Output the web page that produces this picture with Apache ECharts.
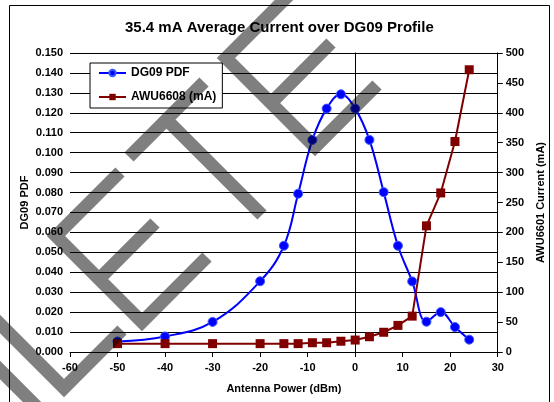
<!DOCTYPE html>
<html><head><meta charset="utf-8">
<script src="https://cdn.jsdelivr.net/npm/echarts@6/dist/echarts.min.js"></script>
<style>html,body{margin:0;padding:0;background:#fff}#c{width:554px;height:402px}</style>
</head><body><div id="c"></div>
<script>
// ---- data ----
const titleText = '35.4 mA Average Current over DG09 Profile';
const powerDbm = [-50, -40, -30, -20, -15, -12, -9, -6, -3, 0, 3, 6, 9, 12, 15, 18, 21, 24];
const dg09Pdf = [0.0053, 0.0078, 0.0151, 0.0355, 0.0533, 0.0794, 0.1064, 0.1221, 0.1293, 0.1221, 0.1064, 0.0802, 0.0533, 0.0354, 0.0152, 0.0200, 0.0125, 0.0062];
const awuCurrent = [14, 14, 14, 14, 14, 14, 15.5, 15.5, 18, 20, 25.5, 33, 44.5, 60, 211, 266, 352, 472];
const seriesNames = ['DG09 PDF', 'AWU6608 (mA)'];
const xAxisName = 'Antenna Power (dBm)';
const leftAxisName = 'DG09 PDF';
const rightAxisName = 'AWU6601 Current (mA)';

// ---- decoration: diagonal watermark strokes ----
const watermarkStrokes = [
  [[-10, 360], [45, 415]],
  [[-12, 312], [64, 388], [122, 330]],
  [[120, 172], [56, 236], [99, 279], [155, 223], [99, 279], [142, 322], [207, 257]],
  [[129, 157], [204, 82], [166.5, 119.5], [262, 215]],
  [[300, -16], [226, 58], [271, 103], [331, 43], [271, 103], [315, 147], [377, 85]]
];

const FONT = "'Liberation Sans', Arial, sans-serif";
const lbl = {color: '#000', fontFamily: FONT, fontWeight: 'bold', fontSize: 11};
const zip = (a, b) => a.map((v, i) => [v, b[i]]);

const chart = echarts.init(document.getElementById('c'), null, {renderer: 'canvas'});
chart.setOption({
  animation: false,
  backgroundColor: '#fff',
  title: {
    text: titleText, left: 125, top: 20, padding: 0,
    textStyle: {color: '#000', fontFamily: FONT, fontWeight: 'bold', fontSize: 15}
  },
  grid: {left: 70, right: 54, top: 53, bottom: 50, containLabel: false},
  legend: {
    orient: 'vertical', left: 90, top: 63,
    padding: [4, 6, 5, 8], itemWidth: 27, itemHeight: 8, itemGap: 12,
    backgroundColor: '#fff', borderColor: '#000', borderWidth: 1, borderRadius: 0,
    textStyle: {color: '#000', fontFamily: FONT, fontWeight: 'bold', fontSize: 12},
    data: seriesNames
  },
  xAxis: {
    type: 'value', min: -60, max: 30, interval: 10,
    axisLine: {show: true, lineStyle: {color: '#000', width: 1}},
    axisTick: {show: true, inside: false, length: 5, lineStyle: {color: '#000'}},
    axisLabel: Object.assign({margin: 10}, lbl),
    splitLine: {show: false},
    name: xAxisName, nameLocation: 'middle', nameGap: 31, nameMoveOverlap: false,
    nameTextStyle: lbl
  },
  yAxis: [{
    type: 'value', position: 'left', min: 0, max: 0.15, interval: 0.01,
    axisLine: {show: true, lineStyle: {color: '#000', width: 1}},
    axisTick: {show: true, inside: false, length: 5, lineStyle: {color: '#000'}},
    axisLabel: Object.assign({margin: 7, formatter: v => v.toFixed(3)}, lbl),
    splitLine: {show: true, lineStyle: {color: '#000', width: 1}},
    name: leftAxisName, nameLocation: 'middle', nameRotate: 90, nameGap: 40, nameMoveOverlap: false,
    nameTextStyle: lbl
  }, {
    type: 'value', position: 'right', min: 0, max: 500, interval: 50,
    alignTicks: false,
    axisLine: {show: true, lineStyle: {color: '#000', width: 1}},
    axisTick: {show: true, inside: false, length: 5, lineStyle: {color: '#000'}},
    axisLabel: Object.assign({margin: 8}, lbl),
    splitLine: {show: false},
    name: rightAxisName, nameLocation: 'middle', nameRotate: 90, nameGap: 33,
    nameTextStyle: lbl
  }],
  series: [{
    name: seriesNames[0], type: 'line', yAxisIndex: 0,
    data: zip(powerDbm, dg09Pdf), smooth: 0.4,
    symbol: 'circle', symbolSize: 9, showSymbol: true, showAllSymbol: true,
    lineStyle: {color: '#0000ff', width: 2},
    itemStyle: {color: '#0000ff', borderColor: '#3a5cff', borderWidth: 1}
  }, {
    name: seriesNames[1], type: 'line', yAxisIndex: 1,
    data: zip(powerDbm, awuCurrent), smooth: false,
    symbol: 'rect', symbolSize: 9, showSymbol: true, showAllSymbol: true,
    lineStyle: {color: '#800000', width: 2},
    itemStyle: {color: '#800000'}
  }],
  graphic: [{
    type: 'rect', silent: true, z: 90,
    shape: {x: 9.5, y: 5.5, width: 540, height: 430},
    style: {fill: null, stroke: '#000', lineWidth: 1}
  }].concat(watermarkStrokes.map(pts => ({
    type: 'polyline', silent: true, z: 100,
    shape: {points: pts},
    style: {fill: null, stroke: 'rgba(0,0,0,0.5)', lineWidth: 13, lineCap: 'butt', lineJoin: 'miter', miterLimit: 10}
  })))
});
</script></body></html>
